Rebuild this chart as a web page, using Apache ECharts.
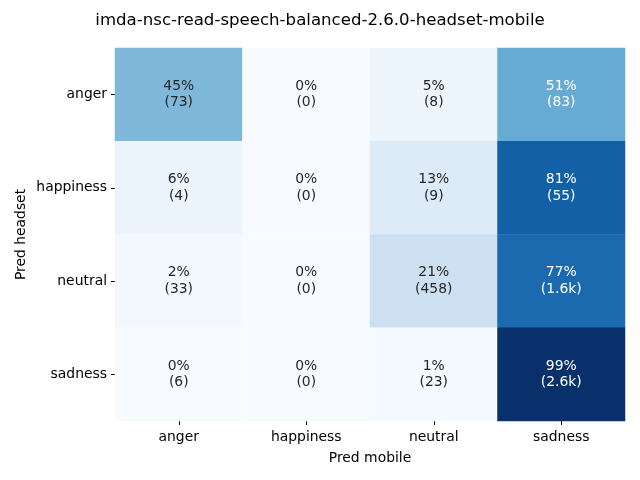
<!DOCTYPE html>
<html>
<head>
<meta charset="utf-8">
<script src="https://cdn.jsdelivr.net/npm/echarts@6/dist/echarts.min.js"></script>
<style>html,body{margin:0;padding:0;background:#fff}#c{width:640px;height:480px}</style>
</head>
<body>
<div id="c"></div>
<script>
var title = 'imda-nsc-read-speech-balanced-2.6.0-headset-mobile';
var predMobile = ['anger', 'happiness', 'neutral', 'sadness'];
var predHeadset = ['anger', 'happiness', 'neutral', 'sadness'];
var percentRows = [
  [45, 0, 5, 51],
  [6, 0, 13, 81],
  [2, 0, 21, 77],
  [0, 0, 1, 99]
];
var countRows = [
  [73, 0, 8, 83],
  [4, 0, 9, 55],
  [33, 0, 458, 1600],
  [6, 0, 23, 2600]
];
var blues = ['#f7fbff','#deebf7','#c6dbef','#9ecae1','#6baed6','#4292c6','#2171b5','#08519c','#08306b'];

function fmtCount(n) {
  return n >= 1000 ? (n / 1000).toFixed(1) + 'k' : String(n);
}
var data = [];
for (var r = 0; r < predHeadset.length; r++) {
  for (var c = 0; c < predMobile.length; c++) {
    var p = percentRows[r][c];
    data.push({
      value: [c, r, p, countRows[r][c]],
      label: { color: p > 48 ? '#ffffff' : '#262626' }
    });
  }
}
var font = 'DejaVu Sans';
var chart = echarts.init(document.getElementById('c'), null, { renderer: 'canvas' });
chart.setOption({
  animation: false,
  backgroundColor: '#ffffff',
  title: {
    text: title, left: 'center', top: 7,
    textStyle: { fontFamily: font, fontSize: 16.6, fontWeight: 'normal', color: '#000' }
  },
  grid: { left: 115, right: 15, top: 48, bottom: 59 },
  xAxis: {
    type: 'category', data: predMobile,
    name: 'Pred mobile', nameLocation: 'middle', nameGap: 30,
    nameTextStyle: { fontFamily: font, fontSize: 13.9, color: '#000' },
    axisLine: { show: false },
    axisTick: { show: true, alignWithLabel: true, length: 4, lineStyle: { color: '#000' } },
    axisLabel: { fontFamily: font, fontSize: 13.9, color: '#000', margin: 9 },
    splitArea: { show: false }
  },
  yAxis: {
    type: 'category', data: predHeadset, inverse: true,
    name: 'Pred headset', nameLocation: 'middle', nameGap: 87, nameRotate: 90,
    nameMoveOverlap: false,
    nameTextStyle: { fontFamily: font, fontSize: 13.9, color: '#000' },
    axisLine: { show: false },
    axisTick: { show: true, alignWithLabel: true, length: 4, lineStyle: { color: '#000' } },
    axisLabel: { fontFamily: font, fontSize: 13.9, color: '#000', margin: 8 }
  },
  visualMap: {
    show: false, min: 0, max: 99, dimension: 2,
    inRange: { color: blues }
  },
  series: [{
    type: 'heatmap',
    data: data,
    label: {
      show: true, fontFamily: font, fontSize: 13.9, lineHeight: 16.5,
      formatter: function (p) { return p.value[2] + '%\n(' + fmtCount(p.value[3]) + ')'; }
    },
    itemStyle: { borderWidth: 0 },
    emphasis: { disabled: true }
  }]
});
</script>
</body>
</html>
